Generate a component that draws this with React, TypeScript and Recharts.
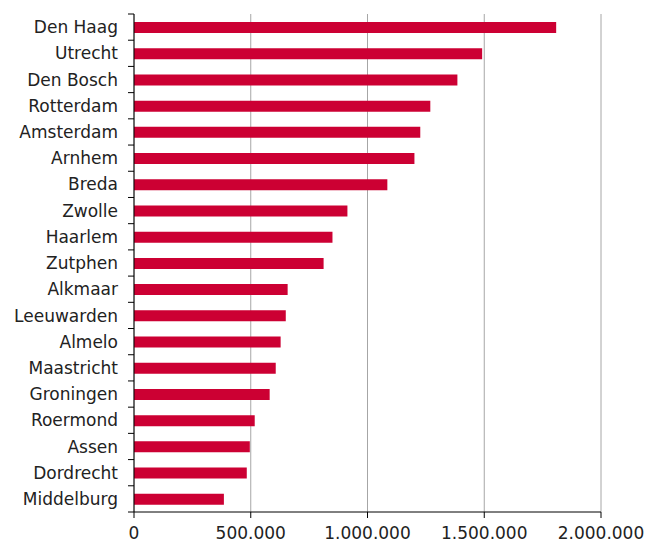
import { BarChart, Bar, XAxis, YAxis, CartesianGrid } from "recharts";

// Cities, top to bottom
const cities = [
  "Den Haag",
  "Utrecht",
  "Den Bosch",
  "Rotterdam",
  "Amsterdam",
  "Arnhem",
  "Breda",
  "Zwolle",
  "Haarlem",
  "Zutphen",
  "Alkmaar",
  "Leeuwarden",
  "Almelo",
  "Maastricht",
  "Groningen",
  "Roermond",
  "Assen",
  "Dordrecht",
  "Middelburg",
];

const values = [
  1808000, 1491000, 1385000, 1269000, 1226000, 1201000, 1085000, 914000,
  850000, 812000, 658000, 650000, 628000, 607000, 581000, 517000, 496000,
  483000, 385000,
];

const xTicks = [0, 500000, 1000000, 1500000, 2000000];

const data = cities.map((city, i) => ({ city, value: values[i] }));

const WIDTH = 648;
const HEIGHT = 543;
const TOP = 14;
const X_AXIS_H = 31;
const PLOT_H = HEIGHT - TOP - X_AXIS_H;
const BAND = PLOT_H / cities.length;

const textColor = "#222";
const font = "'DejaVu Sans', Verdana, sans-serif";

const fmt = (v: number) =>
  v === 0 ? "0" : v.toLocaleString("en-US").replace(/,/g, ".");

// label at band centre, tick mark at band boundary
const CityTick = (props: any) => {
  const { x, y, payload, index } = props;
  const last = index === cities.length - 1;
  return (
    <g>
      <line x1={x - 6} x2={x} y1={y - BAND / 2} y2={y - BAND / 2} stroke="#000" />
      {last && (
        <line x1={x - 6} x2={x} y1={y + BAND / 2} y2={y + BAND / 2} stroke="#000" />
      )}
      <text
        x={x - 16}
        y={y}
        dy="0.36em"
        textAnchor="end"
        fill={textColor}
        fontSize={17}
        fontFamily={font}
      >
        {payload.value}
      </text>
    </g>
  );
};

export default function App() {
  return (
    <div style={{ position: "absolute", left: 0, top: 0, background: "#fff" }}>
      <BarChart
        width={WIDTH}
        height={HEIGHT}
        data={data}
        layout="vertical"
        margin={{ top: TOP, right: 47, bottom: 0, left: 0 }}
      >
        <CartesianGrid horizontal={false} stroke="#a6a6a6" />
        <XAxis
          type="number"
          domain={[0, 2000000]}
          ticks={xTicks}
          tickFormatter={fmt}
          height={X_AXIS_H}
          axisLine={{ stroke: "#000" }}
          tickLine={{ stroke: "#000" }}
          tickSize={6}
          tickMargin={9}
          tick={{ fill: textColor, fontSize: 17, fontFamily: font }}
          interval={0}
        />
        <YAxis
          type="category"
          dataKey="city"
          width={134}
          axisLine={{ stroke: "#000" }}
          tickLine={false}
          tickSize={0}
          tickMargin={0}
          tick={<CityTick />}
          interval={0}
        />
        <Bar dataKey="value" fill="#cc0033" barSize={11} isAnimationActive={false} />
      </BarChart>
    </div>
  );
}
